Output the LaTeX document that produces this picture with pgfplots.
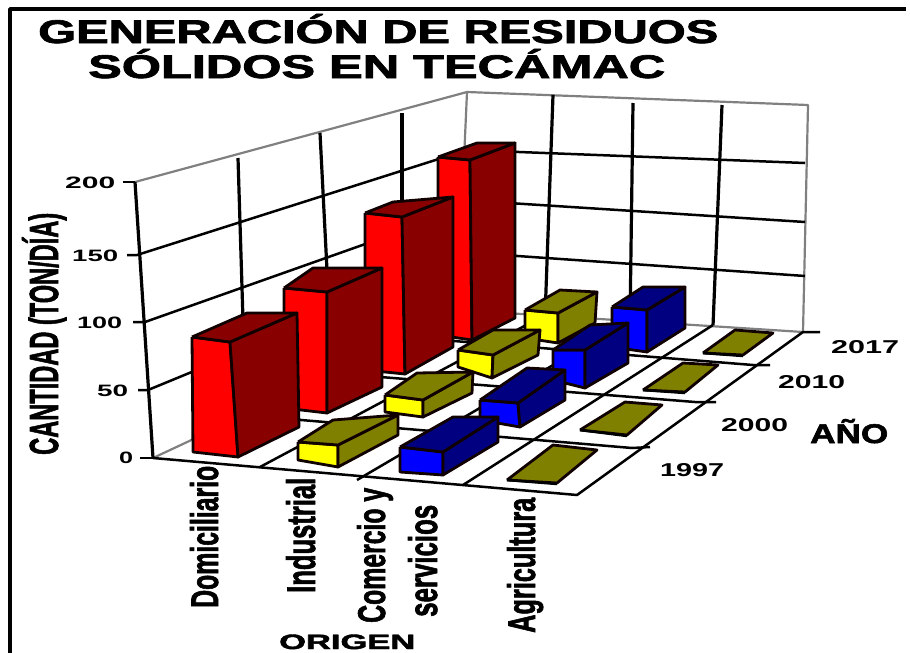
\documentclass[border=0pt]{standalone}
\usepackage{pgfplots}
\pgfplotsset{compat=1.18}
\usepackage{fontspec}
\setmainfont{Liberation Sans}
\newfontfamily\heavy[FakeBold=2]{Liberation Sans Bold}
\definecolor{rf}{HTML}{FF0000}\definecolor{rd}{HTML}{880000}
\definecolor{yf}{HTML}{FFFF00}\definecolor{yd}{HTML}{808000}
\definecolor{bf}{HTML}{0000FF}\definecolor{bd}{HTML}{000080}
\definecolor{edge}{HTML}{100000}
\definecolor{wallgray}{HTML}{808080}
\newcommand\poly[3]{\addplot[fill=#1,draw=#2,line width=2.8pt] coordinates {#3};}
\newcommand\barbox[5]{%
 \poly{#1}{edge}{#3}\poly{#2}{edge}{#4}\poly{#2}{edge}{#5}}
\newcommand\glin[1]{\addplot[black,line width=2.5pt] coordinates {#1};}
\newcommand\vlin[1]{\addplot[black,line width=3.2pt] coordinates {#1};}
\newcommand\grl[1]{\addplot[wallgray,line width=2.2pt] coordinates {#1};}
\newcommand\txt[5]{\node[inner sep=0pt,anchor=base west] at (axis cs:#1,#2) {\resizebox{#3pt}{#4pt}{#5}};}
\newcommand\vtxt[5]{\node[inner sep=0pt,anchor=base west,rotate=90] at (axis cs:#1,#2) {\resizebox{#3pt}{#4pt}{#5}};}
\begin{document}
\begin{tikzpicture}[x=1pt,y=1pt]
\path[use as bounding box] (0,0) rectangle (910pt,653pt);
\begin{axis}[at={(0,0)},anchor=south west,scale only axis,width=910pt,height=653pt,
 xmin=0,xmax=910,ymin=0,ymax=653,y dir=reverse,hide axis,clip=false,
 every axis plot/.append style={no markers,line join=round}]
% frame
\addplot[black,line width=3.6pt] coordinates {(10,653)(10,9)(906,9)};
% walls
\grl{(135,182)(467,92)(808,105)(803,332)}
\grl{(467,92)(462,205)}
\grl{(153,458)(200,436)}
% left wall verticals
\vlin{(135,182)(153,458)}
\vlin{(238,158)(243,320)}
\vlin{(320,133)(327,270)}
\vlin{(402,113)(402,200)}
% right wall verticals
\vlin{(553,95)(545,318)}
\vlin{(633,103)(630,322)}
\vlin{(722,105)(713,326)}
% left wall horizontals
\glin{(123,182)(135,182)}
\glin{(127,255)(137,255)(467,150)}
\glin{(133,322)(145,322)(467,208)}
\glin{(138,390)(148,390)(459,262)}
\glin{(140,458)(153,458)}
% right wall horizontals
\glin{(467,150)(805,163)}
\glin{(462,200)(805,222)}
\glin{(460,252)(805,276)}
\grl{(459,310)(803,332)}
% floor
\glin{(153,458)(577,495)(803,332)(820,332)}
\glin{(242,415)(632,448)(650,447)}
\glin{(330,373)(695,402)(716,402)}
\glin{(404,337)(753,365)(770,365)}
\glin{(260,467)(545,315)}
\glin{(357,480)(630,320)}
\glin{(463,485)(713,325)}
% red
\barbox{rf}{rd}{(438,157)(470,160)(472,340)(438,335)(438,157)}{(470,160)(515,143)(515,318)(472,340)(470,160)}{(438,157)(477,143)(515,143)(470,160)(438,157)}
\barbox{rf}{rd}{(365,213)(402,217)(405,374)(365,370)(365,213)}{(402,217)(453,197)(453,347)(405,374)(402,217)}{(365,213)(393,202)(453,197)(402,217)(365,213)}
\barbox{rf}{rd}{(284,288)(327,292)(327,413)(284,408)(284,288)}{(327,292)(382,268)(382,387)(327,413)(327,292)}{(284,288)(313,268)(382,268)(327,292)(284,288)}
\barbox{rf}{rd}{(192,337)(230,342)(238,457)(193,452)(192,337)}{(230,342)(297,313)(299,427)(238,457)(230,342)}{(192,337)(247,313)(297,313)(230,342)(192,337)}
% yellow
\barbox{yf}{yd}{(525,310)(558,313)(558,343)(525,338)(525,310)}{(558,313)(597,292)(595,323)(558,343)(558,313)}{(525,310)(560,290)(597,292)(558,313)(525,310)}
\barbox{yf}{yd}{(458,350)(493,355)(492,378)(458,367)(458,350)}{(493,355)(540,330)(538,355)(492,378)(493,355)}{(458,350)(493,330)(540,330)(493,355)(458,350)}
\barbox{yf}{yd}{(385,395)(423,400)(423,417)(385,412)(385,395)}{(423,400)(473,372)(472,393)(423,417)(423,400)}{(385,395)(417,373)(473,372)(423,400)(385,395)}
\barbox{yf}{yd}{(298,442)(338,445)(338,467)(298,460)(298,442)}{(338,445)(398,415)(398,435)(338,467)(338,445)}{(298,442)(333,420)(398,415)(338,445)(298,442)}
% blue
\barbox{bf}{bd}{(612,307)(647,310)(647,352)(612,347)(612,307)}{(647,310)(685,287)(685,328)(647,352)(647,310)}{(612,307)(643,287)(685,287)(647,310)(612,307)}
\barbox{bf}{bd}{(553,350)(585,350)(585,388)(553,380)(553,350)}{(585,350)(628,323)(628,363)(585,388)(585,350)}{(553,350)(590,325)(628,323)(585,350)(553,350)}
\barbox{bf}{bd}{(480,400)(518,403)(520,427)(480,420)(480,400)}{(518,403)(565,370)(565,400)(520,427)(518,403)}{(480,400)(527,368)(565,370)(518,403)(480,400)}
\barbox{bf}{bd}{(400,447)(443,452)(443,475)(400,472)(400,447)}{(443,452)(498,417)(498,442)(443,475)(443,452)}{(400,447)(453,417)(498,417)(443,452)(400,447)}
% flat olive bars (agricultura)
\poly{yd}{edge}{(703,353)(743,355)(773,333)(735,330)(703,353)}
\glin{(703,353)(743,356)}
\poly{yd}{edge}{(643,390)(685,392)(718,365)(683,363)(643,390)}
\glin{(643,390)(685,393)}
\poly{yd}{edge}{(580,430)(627,435)(662,405)(625,402)(580,430)}
\glin{(580,430)(627,436)}
\poly{yd}{edge}{(507,480)(557,483)(597,450)(553,445)(507,480)}
\glin{(507,480)(557,484)}
% title
\txt{38}{43}{680}{29}{\heavy GENERACIÓN DE RESIDUOS}
\txt{88}{78}{577}{29}{\heavy SÓLIDOS EN TECÁMAC}
% y ticks
\txt{65}{188}{50}{11.5}{\bfseries 200}
\txt{72}{261}{46}{11.5}{\bfseries 150}
\txt{77}{328}{45}{11.5}{\bfseries 100}
\txt{97}{396}{31}{11.5}{\bfseries 50}
\txt{119}{463}{14}{11.5}{\bfseries 0}
\vtxt{58}{455}{242}{36}{\heavy CANTIDAD (TON/DÍA)}
% years
\txt{831}{353}{68}{13}{\bfseries 2017}
\txt{778}{388}{67}{13}{\bfseries 2010}
\txt{721}{431}{67}{13}{\bfseries 2000}
\txt{660}{476}{64}{13}{\bfseries 1997}
\txt{810}{443}{78}{24}{\heavy AÑO}
% categories
\vtxt{218}{608}{142}{28}{\heavy Domiciliario}
\vtxt{315}{593}{115}{29}{\heavy Industrial}
\vtxt{385}{623}{135}{28}{\heavy Comercio y}
\vtxt{437}{617}{112}{29}{\heavy servicios}
\vtxt{535}{633}{135}{28}{\heavy Agricultura}
\txt{279}{649}{136}{14.5}{\heavy ORIGEN}
\end{axis}
\end{tikzpicture}
\end{document}
